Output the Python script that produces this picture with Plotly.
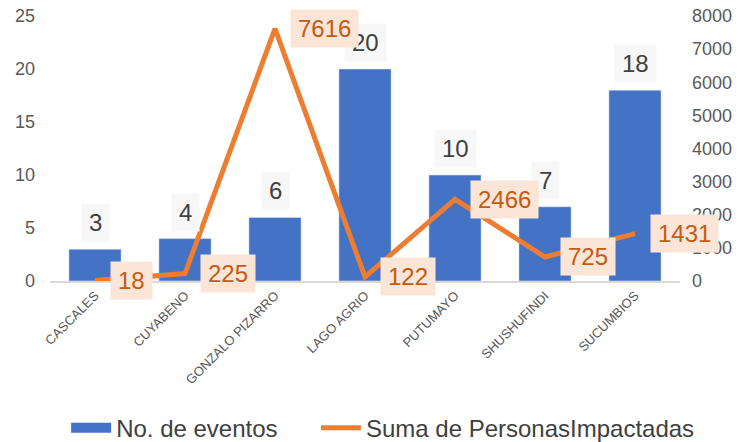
import plotly.graph_objects as go

categories = ["CASCALES", "CUYABENO", "GONZALO PIZARRO", "LAGO AGRIO", "PUTUMAYO", "SHUSHUFINDI", "SUCUMBIOS"]
eventos = [3, 4, 6, 20, 10, 7, 18]
personas = [18, 225, 7616, 122, 2466, 725, 1431]
left_ticks = [0, 5, 10, 15, 20, 25]
right_ticks = [0, 1000, 2000, 3000, 4000, 5000, 6000, 7000, 8000]

BLUE = "#4472c4"
ORANGE = "#ed7d31"
FONT = "Liberation Sans, Arial, sans-serif"
HS = "\u200a"
NB = "\u00a0"

fig = go.Figure()
fig.add_trace(go.Bar(x=categories, y=eventos, name="No. de eventos", marker_color=BLUE, yaxis="y",
                     showlegend=False))
# legend-only entry to mimic the wide rectangle swatch
fig.add_trace(go.Scatter(x=[categories[0]], y=[None], name="No. de eventos" + NB * 5, mode="lines",
                         line=dict(color=BLUE, width=15), yaxis="y"))
fig.add_trace(go.Scatter(x=categories, y=personas, name="Suma de PersonasImpactadas", mode="lines",
                         line=dict(color=ORANGE, width=5), yaxis="y2"))

ann = []
for c, v in zip(categories, eventos):
    ann.append(dict(x=c, y=v, xref="x", yref="y", text=HS + str(v) + HS, showarrow=False, yanchor="bottom",
                    yshift=7, bgcolor="#f7f7f7", borderpad=5,
                    font=dict(family=FONT, size=24, color="#404040")))
for c, v in zip(categories, personas):
    ann.append(dict(x=c, y=v, xref="x", yref="y2", text=HS + str(v) + HS, showarrow=False, xanchor="left",
                    yanchor="middle", xshift=15, bgcolor="#fbe5d6", borderpad=5,
                    font=dict(family=FONT, size=24, color="#c55a11")))

fig.update_layout(
    width=741, height=442,
    margin=dict(l=50, r=61, t=16, b=161, autoexpand=False),
    paper_bgcolor="white", plot_bgcolor="white",
    font=dict(family=FONT, color="#595959"),
    bargap=0.42,
    showlegend=True,
    legend=dict(orientation="h", x=0.528, xanchor="center", y=-0.555, yanchor="middle",
                font=dict(size=24, color="#404040"), itemwidth=40, tracegroupgap=0),
    xaxis=dict(showline=True, linecolor="#d9d9d9", linewidth=2, tickangle=-45, ticks="",
               tickfont=dict(size=13, color="#595959"), showgrid=False, automargin=False,
               range=[-0.5, len(categories) - 0.5]),
    yaxis=dict(range=[0, 25], tickvals=left_ticks, showgrid=False, zeroline=False, showline=False,
               tickfont=dict(size=18, color="#595959"), ticklabelstandoff=14, automargin=False),
    yaxis2=dict(range=[0, 8000], tickvals=right_ticks, overlaying="y", side="right", showgrid=False,
                zeroline=False, showline=False, tickfont=dict(size=18, color="#595959"),
                ticklabelstandoff=11, automargin=False),
    annotations=ann,
)

fig.write_html("out.html", config={"displayModeBar": False},
               post_script="document.body.style.margin='0px';")
